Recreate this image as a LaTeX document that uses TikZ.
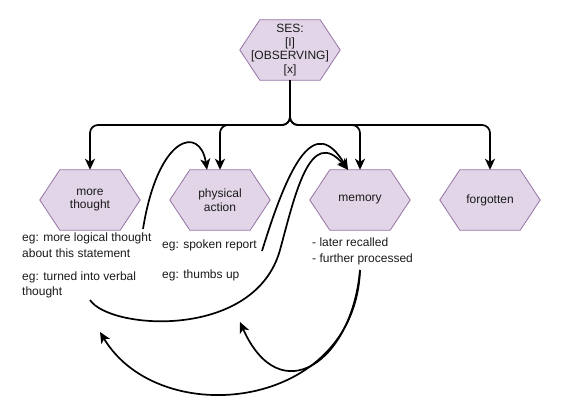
\documentclass[tikz,border=0pt]{standalone}
\usepackage{fontspec}
\setmainfont{Liberation Sans}
\usetikzlibrary{arrows.meta,backgrounds,calc}
\definecolor{hexfill}{HTML}{E1D5E7}
\definecolor{hexdraw}{HTML}{9673A6}
\definecolor{txt}{HTML}{1A1A1A}
\begin{document}
\begin{tikzpicture}[x=1pt,y=-1pt,
  hexbox/.style={minimum width=100pt,minimum height=60pt,inner sep=0pt,align=center,font=\fontsize{12}{13.8}\selectfont,text=txt},
  note/.style={anchor=west,inner sep=0pt,align=left,font=\fontsize{12}{15.5}\selectfont,text=txt},
  conn/.style={line width=1.7pt,-{Stealth[length=11pt,width=10pt,inset=3pt]}},
  bus/.style={conn,rounded corners=8pt},
  hexline/.style={draw=hexdraw,fill=hexfill,line width=0.8pt}]
\useasboundingbox (0,0) rectangle (561,417);
% hexagon nodes
\node[hexbox] (ses) at (290,50) {SES:\\{[I]}\\{[OBSERVING]}\\{[x]}};
\node[hexbox] (mt) at (90,200) {more\\thought};
\node[hexbox] (pa) at (220,200) {physical\\action};
\node[hexbox] (mem) at (360,200) {memory};
\node[hexbox] (fg) at (490,200) {forgotten};
\begin{scope}[on background layer]
\foreach \n in {ses,mt,pa,mem,fg}
  \draw[hexline] (\n.west) -- ([xshift=20pt]\n.north west) -- ([xshift=-20pt]\n.north east)
    -- (\n.east) -- ([xshift=-20pt]\n.south east) -- ([xshift=20pt]\n.south west) -- cycle;
\end{scope}
% notes
\node[note] (t1) at (22,245) {eg: more logical thought\\about this statement};
\node[note] (t2) at (22,285) {eg: turned into verbal\\thought};
\node[note] (t3) at (162,245) {eg: spoken report};
\node[note] (t4) at (162,275) {eg: thumbs up};
\node[note] (t5) at (312,251.5) {- later recalled\\- further processed};
% tree connectors
\coordinate (split) at (290,125);
\foreach \n in {mt,pa,mem,fg}
  \draw[bus] (ses.south) -- (split) -| (\n.north);
% curved connectors
\coordinate (s1) at (143,229);
\coordinate (s2) at (262,251);
\coordinate (s3) at (90,300);
\coordinate (s4) at (360,270);
\coordinate (e1) at (240,322);
\coordinate (e2) at (100,332);
\draw[conn] (s1) .. controls (158,135) and (200,125) .. ([xshift=-13pt]pa.north);
\draw[conn] (s2) .. controls (290,160) and (315,115) .. ([xshift=-12pt]mem.north);
\draw[conn] (s3) .. controls (110,330) and (255,340) .. (280,250)
  .. controls (295,195) and (310,125) .. ([xshift=-12pt]mem.north);
\draw[conn] (s4) .. controls (352,362) and (280,412) .. (e1);
\draw[conn] (s4) .. controls (355,410) and (160,432) .. (e2);
\end{tikzpicture}
\end{document}
